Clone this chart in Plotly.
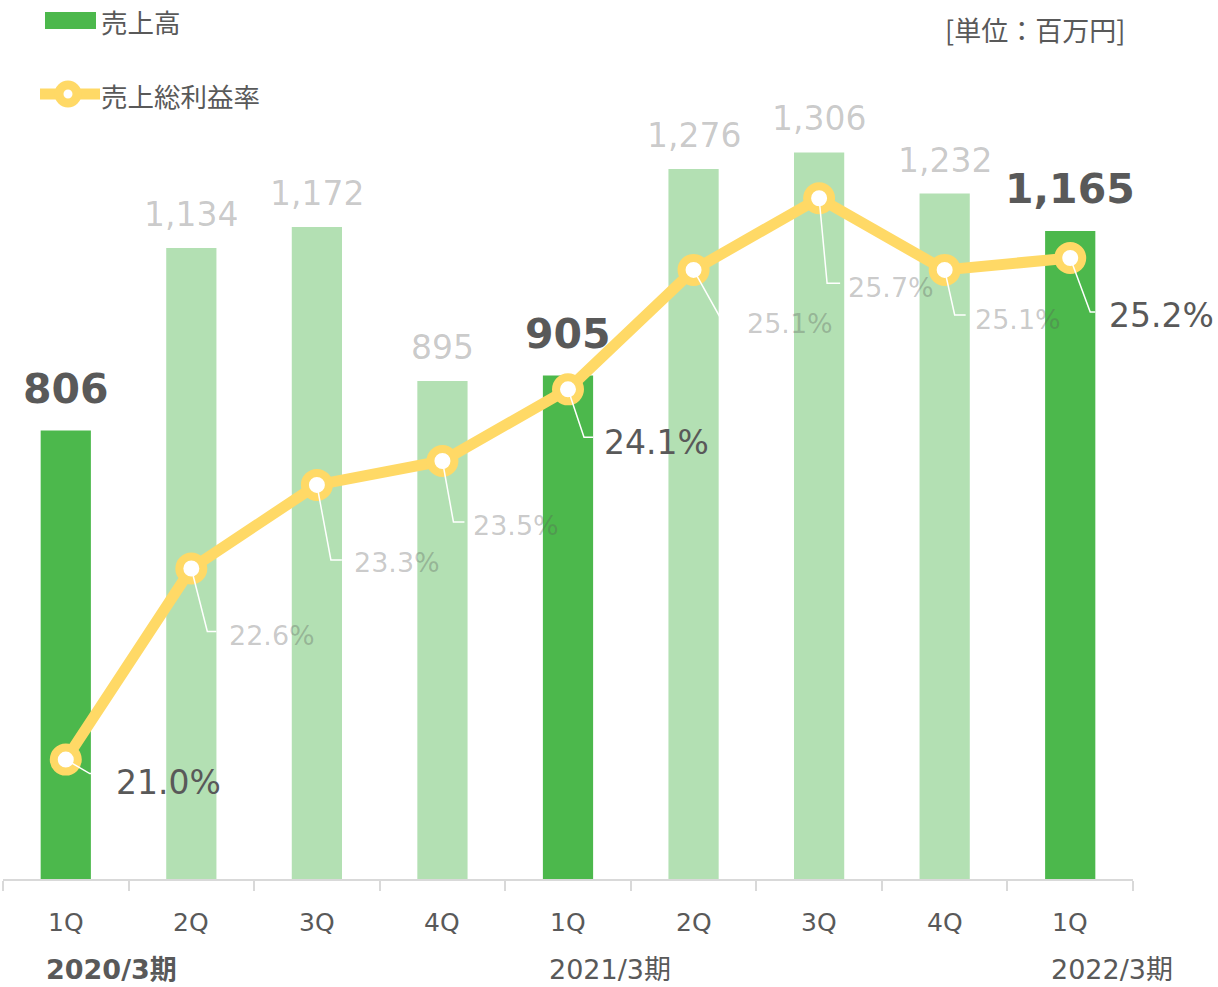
import plotly.graph_objects as go

# data
QUARTERS = ["1Q", "2Q", "3Q", "4Q", "1Q", "2Q", "3Q", "4Q", "1Q"]
FISCAL_YEARS = ["2020/3期", "2021/3期", "2022/3期"]
FISCAL_START = [0, 4, 8]
SALES = [806, 1134, 1172, 895, 905, 1276, 1306, 1232, 1165]
GROSS_MARGIN = [21.0, 22.6, 23.3, 23.5, 24.1, 25.1, 25.7, 25.1, 25.2]
HIGHLIGHT = [True, False, False, False, True, False, False, False, True]

# styling
GREEN = "#4CB84C"
LIGHT_GREEN = "#B3E0B3"
YELLOW = "#FFD966"
DARK = "#595959"
FADED = "rgba(89,89,89,0.32)"
AXIS = "#D9D9D9"
NUM_FONT = "DejaVu Sans, Noto Sans CJK JP"
JP_FONT = "Noto Sans CJK JP, DejaVu Sans"

W, H = 1218, 987
L, R, T, B = 3, 85, 0, 108
PW, PH = W - L - R, H - T - B

# leader line / label offsets in pixels (bend dx, bend dy, end dx, label dx, label dy)
LEADERS = [
    (24, 14, 26, 48, 23),
    (16, 63, 25, 36, 67),
    (14, 75, 25, 35, 78),
    (11, 61, 22, 29, 64),
    (16, 48, 25, 34, 53),
    (28, 50, 42, 51, 54),
    (8, 85, 21, 27, 89),
    (10, 45, 21, 28, 50),
    (20, 54, 25, 37, 58),
]


def px_x(px):
    return (px - L) / PW


def px_y(py):
    return 1 - (py - T) / PH


idx = list(range(len(SALES)))

fig = go.Figure()
fig.add_trace(go.Bar(
    x=idx, y=SALES, width=0.4,
    marker=dict(color=[GREEN if h else LIGHT_GREEN for h in HIGHLIGHT], line=dict(width=0)),
    hoverinfo="skip", showlegend=False,
))
fig.add_trace(go.Scatter(
    x=idx, y=GROSS_MARGIN, yaxis="y2", mode="lines+markers",
    line=dict(color=YELLOW, width=11),
    marker=dict(size=24, color="white", line=dict(color=YELLOW, width=8)),
    cliponaxis=False, showlegend=False,
))

annotations = []
shapes = []

# bar value labels
for i, (v, h) in enumerate(zip(SALES, HIGHLIGHT)):
    annotations.append(dict(
        x=i, y=v, xref="x", yref="y", text=f"<b>{v:,}</b>" if h else f"{v:,}",
        showarrow=False, yanchor="bottom", yshift=16 if h else 12,
        font=dict(family=NUM_FONT, size=41 if h else 33, color=DARK if h else FADED),
    ))

# margin labels with leader lines
for i, (p, h) in enumerate(zip(GROSS_MARGIN, HIGHLIGHT)):
    bx, by, ex, lx, ly = LEADERS[i]
    shapes.append(dict(
        type="path", xref="x", yref="y2", xsizemode="pixel", ysizemode="pixel",
        xanchor=i, yanchor=p, path=f"M0,0 L{bx},{-by} L{ex},{-by}",
        line=dict(color="white", width=1.5), layer="above",
    ))
    annotations.append(dict(
        x=i, y=p, xref="x", yref="y2", text=f"{p:.1f}%", showarrow=False,
        xanchor="left", yanchor="middle", xshift=lx, yshift=-ly,
        font=dict(family=NUM_FONT, size=33 if h else 27, color=DARK if h else FADED),
    ))

# category labels
for i, q in enumerate(QUARTERS):
    annotations.append(dict(
        x=i, y=px_y(923), xref="x", yref="paper", text=q, showarrow=False,
        yanchor="middle", font=dict(family=NUM_FONT, size=25, color=DARK),
    ))
for k, (fy, s) in enumerate(zip(FISCAL_YEARS, FISCAL_START)):
    annotations.append(dict(
        x=s - 0.17, y=px_y(970), xref="x", yref="paper",
        text=f"<b>{fy}</b>" if k == 0 else fy, showarrow=False,
        xanchor="left", yanchor="middle", font=dict(family=NUM_FONT, size=27, color=DARK),
    ))

# custom legend
shapes.append(dict(type="rect", xref="paper", yref="paper",
                   x0=px_x(45), x1=px_x(96), y0=px_y(29), y1=px_y(12),
                   fillcolor=GREEN, line=dict(width=0)))
shapes.append(dict(type="line", xref="paper", yref="paper",
                   x0=px_x(40), x1=px_x(100), y0=px_y(94), y1=px_y(94),
                   line=dict(color=YELLOW, width=11)))
shapes.append(dict(type="circle", xref="paper", yref="paper",
                   x0=px_x(59), x1=px_x(77), y0=px_y(103), y1=px_y(85),
                   fillcolor="white", line=dict(color=YELLOW, width=9)))
annotations.append(dict(x=px_x(99), y=px_y(21), xref="paper", yref="paper", text="売上高",
                        showarrow=False, xanchor="left", yanchor="middle",
                        font=dict(family=JP_FONT, size=26.5, color=DARK)))
annotations.append(dict(x=px_x(99), y=px_y(95), xref="paper", yref="paper", text="売上総利益率",
                        showarrow=False, xanchor="left", yanchor="middle",
                        font=dict(family=JP_FONT, size=26.5, color=DARK)))
annotations.append(dict(x=px_x(1127), y=px_y(30), xref="paper", yref="paper", text="[単位：百万円]",
                        showarrow=False, xanchor="right", yanchor="middle",
                        font=dict(family=JP_FONT, size=27, color=DARK)))

fig.update_layout(
    width=W, height=H,
    margin=dict(l=L, r=R, t=T, b=B, pad=0),
    plot_bgcolor="white", paper_bgcolor="white",
    bargap=0.6,
    xaxis=dict(range=[-0.5, 8.5], tickvals=[k - 0.5 for k in range(10)], ticktext=[""] * 10,
               ticks="outside", ticklen=10, tickwidth=2, tickcolor=AXIS,
               showline=True, linecolor=AXIS, linewidth=2, showgrid=False, zeroline=False),
    yaxis=dict(range=[0, 1580], visible=False, showgrid=False),
    yaxis2=dict(range=[20, 27.36], overlaying="y", visible=False, showgrid=False),
    annotations=annotations,
    shapes=shapes,
)

fig.write_html("out.html", config={"displayModeBar": False},
               post_script="document.body.style.margin='0';document.body.style.overflow='hidden';")
